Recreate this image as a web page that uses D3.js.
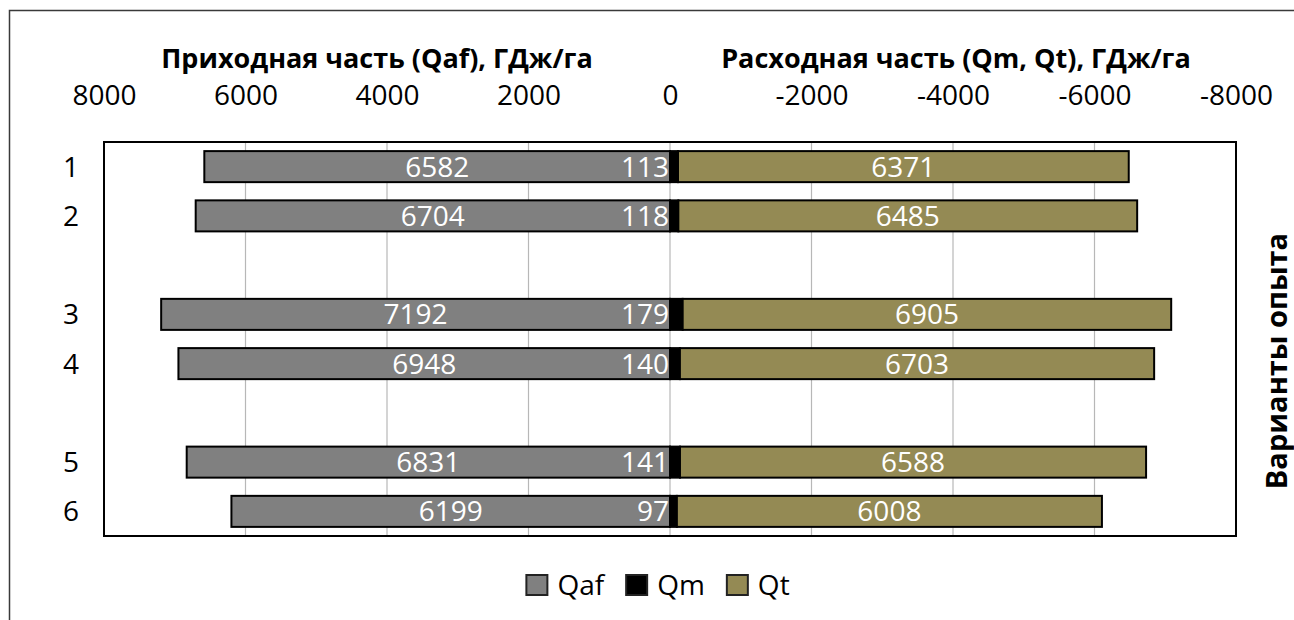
<!DOCTYPE html>
<html>
<head>
<meta charset="utf-8">
<script src="https://cdn.jsdelivr.net/npm/d3@7"></script>
<style>
  html, body { margin: 0; padding: 0; background: #fff; }
  svg { display: block; font-family: "Open Sans", "Noto Sans", sans-serif; }
</style>
</head>
<body>
<svg id="chart" width="1294" height="620"></svg>
<script>
// Energy balance by experiment variant (GJ/ha); empty slots separate the groups
const categories = ["1", "2", "", "3", "4", "", "5", "6"];
const qaf = [6582, 6704, null, 7192, 6948, null, 6831, 6199];
const qm  = [113, 118, null, 179, 140, null, 141, 97];
const qt  = [6371, 6485, null, 6905, 6703, null, 6588, 6008];
const tickValues = [8000, 6000, 4000, 2000, 0, -2000, -4000, -6000, -8000];
const seriesNames = ["Qaf", "Qm", "Qt"];
const seriesColors = ["#808080", "#000000", "#948A54"];

const svg = d3.select("#chart");
const W = 1294, H = 620;
const plot = { left: 104, right: 1236, top: 142, bottom: 536 };

// outer chart frame
svg.append("rect")
  .attr("x", 9.5).attr("y", 10.5)
  .attr("width", W).attr("height", H)
  .attr("fill", "none").attr("stroke", "#3a3a3a").attr("stroke-width", 1.5);

// income on the left (positive), expenditure on the right (negative)
const x = d3.scaleLinear().domain([8000, -8000]).range([plot.left, plot.right]);
const y = d3.scaleBand()
  .domain(d3.range(categories.length))
  .range([plot.top, plot.bottom])
  .paddingInner(0.37).paddingOuter(0.185);

// vertical gridlines
svg.append("g").selectAll("line")
  .data(tickValues.slice(1, -1))
  .join("line")
  .attr("x1", d => x(d)).attr("x2", d => x(d))
  .attr("y1", plot.top).attr("y2", plot.bottom)
  .attr("stroke", "#b7b7b7").attr("stroke-width", 1.2);

// top value axis
const axisG = svg.append("g")
  .attr("transform", `translate(0,${plot.top - 37})`)
  .call(d3.axisTop(x).tickValues(tickValues).tickSize(0).tickPadding(0).tickFormat(d => String(d)));
axisG.select(".domain").remove();
axisG.selectAll("text")
  .attr("font-size", 28).attr("fill", "#000")
  .attr("font-family", "'Open Sans', sans-serif");

// category axis labels
const rows = d3.range(categories.length);
svg.append("g").selectAll("text")
  .data(rows.filter(i => categories[i] !== ""))
  .join("text")
  .attr("x", 71)
  .attr("y", i => y(i) + y.bandwidth() / 2 + 10)
  .attr("text-anchor", "middle")
  .attr("font-size", 28)
  .text(i => categories[i]);

const filled = rows.filter(i => qaf[i] != null);
const barsG = svg.append("g");

// Qaf bars (income)
barsG.selectAll("rect.qaf")
  .data(filled).join("rect").attr("class", "qaf")
  .attr("x", i => x(qaf[i])).attr("width", i => x(0) - x(qaf[i]))
  .attr("y", i => y(i)).attr("height", y.bandwidth())
  .attr("fill", seriesColors[0]).attr("stroke", "#000").attr("stroke-width", 2);

// Qm bars (expenditure, first segment)
barsG.selectAll("rect.qm")
  .data(filled).join("rect").attr("class", "qm")
  .attr("x", x(0)).attr("width", i => x(-qm[i]) - x(0))
  .attr("y", i => y(i)).attr("height", y.bandwidth())
  .attr("fill", seriesColors[1]).attr("stroke", "#000").attr("stroke-width", 2);

// Qt bars (expenditure, stacked after Qm)
barsG.selectAll("rect.qt")
  .data(filled).join("rect").attr("class", "qt")
  .attr("x", i => x(-qm[i])).attr("width", i => x(-(qm[i] + qt[i])) - x(-qm[i]))
  .attr("y", i => y(i)).attr("height", y.bandwidth())
  .attr("fill", seriesColors[2]).attr("stroke", "#000").attr("stroke-width", 2);

// value labels
const labelsG = svg.append("g").attr("fill", "#fff").attr("font-size", 28);
labelsG.selectAll("text.lqaf")
  .data(filled).join("text").attr("class", "lqaf")
  .attr("x", i => (x(qaf[i]) + x(0)) / 2)
  .attr("y", i => y(i) + y.bandwidth() / 2 + 10)
  .attr("text-anchor", "middle")
  .text(i => qaf[i]);
labelsG.selectAll("text.lqm")
  .data(filled).join("text").attr("class", "lqm")
  .attr("x", x(0) - 1)
  .attr("y", i => y(i) + y.bandwidth() / 2 + 10)
  .attr("text-anchor", "end")
  .text(i => qm[i]);
labelsG.selectAll("text.lqt")
  .data(filled).join("text").attr("class", "lqt")
  .attr("x", i => (x(-qm[i]) + x(-(qm[i] + qt[i]))) / 2)
  .attr("y", i => y(i) + y.bandwidth() / 2 + 10)
  .attr("text-anchor", "middle")
  .text(i => qt[i]);

// plot area border
svg.append("rect")
  .attr("x", plot.left).attr("y", plot.top)
  .attr("width", plot.right - plot.left).attr("height", plot.bottom - plot.top)
  .attr("fill", "none").attr("stroke", "#000").attr("stroke-width", 2);

// axis titles
svg.append("text")
  .attr("x", 377).attr("y", 68).attr("text-anchor", "middle")
  .attr("font-size", 27).attr("font-weight", "bold")
  .text("Приходная часть (Qaf), ГДж/га");
svg.append("text")
  .attr("x", 956).attr("y", 68).attr("text-anchor", "middle")
  .attr("font-size", 27).attr("font-weight", "bold")
  .text("Расходная часть (Qm, Qt), ГДж/га");
svg.append("text")
  .attr("transform", "translate(1287,361) rotate(-90)")
  .attr("text-anchor", "middle")
  .attr("font-size", 29).attr("font-weight", "bold")
  .text("Варианты опыта");

// legend
const legend = svg.append("g");
let lx = 0;
seriesNames.forEach((name, k) => {
  const item = legend.append("g").attr("transform", `translate(${lx},0)`);
  item.append("rect")
    .attr("x", 0).attr("y", -10).attr("width", 21).attr("height", 20)
    .attr("fill", seriesColors[k]).attr("stroke", "#222").attr("stroke-width", 2);
  const t = item.append("text")
    .attr("x", 31).attr("y", 10).attr("font-size", 28).text(name);
  lx += 31 + t.node().getComputedTextLength() + 22;
});
const legendW = lx - 22;
legend.attr("transform", `translate(${658 - legendW / 2},585)`);
</script>
</body>
</html>
